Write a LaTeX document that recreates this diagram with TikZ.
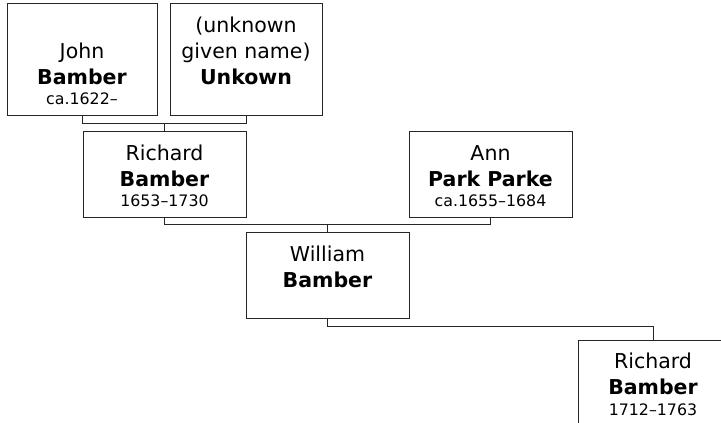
\documentclass[tikz,border=0pt]{standalone}
\usepackage{fontspec}
\setmainfont{DejaVu Sans}
\usetikzlibrary{calc}
\newcommand{\mainsz}{\fontsize{20.5}{26}\selectfont}
\newcommand{\datesz}{\fontsize{15.8}{20}\selectfont}
\tikzset{
  person/.style={draw=black!85, line width=1pt, fill=white, rectangle, inner sep=0pt,
    minimum width=#1},
  ptext/.style={align=center, inner sep=0pt, font=\mainsz, anchor=south, yshift=10.3pt},
  link/.style={draw=black!85, line width=1pt},
}
\begin{document}
\begin{tikzpicture}[x=1pt, y=-1pt]
\useasboundingbox (0,0) rectangle (721,423);
\begin{scope}
\clip (0,0) rectangle (721,423);
% boxes
\node[person=150pt, minimum height=112pt] (john) at (82,59) {};
\node[person=152pt, minimum height=112pt] (unk) at (246,59) {};
\node[person=163pt, minimum height=86pt] (rich) at (164.5,174) {};
\node[person=163pt, minimum height=86pt] (ann) at (490.5,174) {};
\node[person=163pt, minimum height=86pt] (will) at (327.5,275) {};
\node[person=170pt, minimum height=86pt] (rich2) at (663,383) {};
% texts
\node[ptext] (johnT) at (john.south) {John\\\textbf{Bamber}\\[-5.3pt]{\datesz ca.1622–}};
\node[ptext] (unkT) at (unk.south) {(unknown\\given name)\\\textbf{Unkown}\\[-5.3pt]\mbox{}};
\node[ptext] (richT) at (rich.south) {Richard\\\textbf{Bamber}\\[-5.3pt]{\datesz 1653–1730}};
\node[ptext] (annT) at (ann.south) {Ann\\\textbf{Park Parke}\\[-5.3pt]{\datesz ca.1655–1684}};
\node[ptext] (willT) at (will.south) {William\\\textbf{Bamber}\\[-5.3pt]\mbox{}};
\node[ptext] (rich2T) at (653,426) {Richard\\\textbf{Bamber}\\[-5.3pt]{\datesz 1712–1763}};
% connectors
\draw[link] (john.south) -- ++(0,8) -| (unk.south);
\coordinate (m1) at ($(john.south)!0.5!(unk.south)+(0,8)$);
\draw[link] (m1) -- (m1 |- rich.north);
\draw[link] (rich.south) -- ++(0,7.3) -| (ann.south);
\coordinate (m2) at ($(rich.south)!0.5!(ann.south)+(0,7.3)$);
\draw[link] (m2) -- (m2 |- will.north);
\coordinate (r2top) at (rich2T |- rich2.north);
\draw[link] (will.south) -- ++(0,8) -| (r2top);
\end{scope}
\end{tikzpicture}
\end{document}
